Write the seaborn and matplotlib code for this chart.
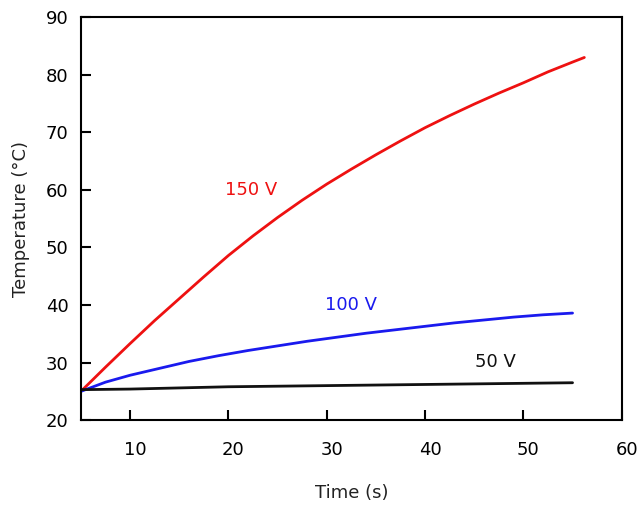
import pandas as pd
import matplotlib.pyplot as plt
import matplotlib.transforms as mtransforms
import seaborn as sns

time_150 = [5, 7.5, 10, 12.5, 15, 17.5, 20, 22.5, 25, 27.5, 30, 32.5, 35, 37.5, 40, 42.5, 45, 47.5, 50, 52.5, 55, 56.2]
temp_150 = [25.0, 29.2, 33.3, 37.3, 41.1, 44.9, 48.6, 52.0, 55.2, 58.2, 61.0, 63.6, 66.1, 68.5, 70.8, 72.9, 74.9, 76.8, 78.6, 80.5, 82.2, 83.0]

time_100 = [5, 7.5, 10, 13, 16, 19, 22, 25, 28, 31, 34, 37, 40, 43, 46, 49, 52, 55]
temp_100 = [25.0, 26.6, 27.8, 29.0, 30.2, 31.2, 32.1, 32.9, 33.7, 34.4, 35.1, 35.7, 36.3, 36.9, 37.4, 37.9, 38.3, 38.6]

time_50 = [5, 10, 15, 20, 25, 30, 35, 40, 45, 50, 55]
temp_50 = [25.3, 25.4, 25.6, 25.8, 25.9, 26.0, 26.1, 26.2, 26.3, 26.4, 26.5]

x_ticks = [10, 20, 30, 40, 50, 60]
y_ticks = [20, 30, 40, 50, 60, 70, 80, 90]

df = pd.concat([
    pd.DataFrame({'Time': time_150, 'Temp': temp_150, 'Voltage': '150 V'}),
    pd.DataFrame({'Time': time_100, 'Temp': temp_100, 'Voltage': '100 V'}),
    pd.DataFrame({'Time': time_50, 'Temp': temp_50, 'Voltage': '50 V'}),
])
colors = {'150 V': '#ee1111', '100 V': '#1a1aee', '50 V': '#111111'}

sns.set_style("white")
fig = plt.figure(figsize=(6.37, 5.05), dpi=100)
ax = fig.add_axes([0.127, 0.168, 0.849, 0.798])

sns.lineplot(data=df, x='Time', y='Temp', hue='Voltage', palette=colors,
             linewidth=2.0, legend=False, ax=ax)

ax.set_xlim(5, 60)
ax.set_ylim(20, 90)
ax.set_xticks(x_ticks)
ax.set_yticks(y_ticks)
ax.tick_params(bottom=True, left=True, direction='in', length=7, width=1.5,
               labelsize=13, colors='black')
ax.tick_params(axis='x', pad=15)
ax.tick_params(axis='y', pad=9)
for s in ax.spines.values():
    s.set_linewidth(1.5)
    s.set_color('black')

# x tick labels sit a little right of their ticks in the original
shift = mtransforms.ScaledTranslation(0.05, 0, fig.dpi_scale_trans)
for lbl in ax.get_xticklabels():
    lbl.set_transform(lbl.get_transform() + shift)

ax.set_xlabel('Time (s)', fontsize=13, labelpad=18, color='#222222')
ax.set_ylabel('Temperature (°C)', fontsize=13, labelpad=11, color='#222222')

ax.text(22.3, 60, '150 V', color='#ee1111', fontsize=13, ha='center', va='center')
ax.text(32.5, 40, '100 V', color='#1a1aee', fontsize=13, ha='center', va='center')
ax.text(47.2, 30.1, '50 V', color='#111111', fontsize=13, ha='center', va='center')

plt.savefig('out.png', dpi=100)
plt.close()
